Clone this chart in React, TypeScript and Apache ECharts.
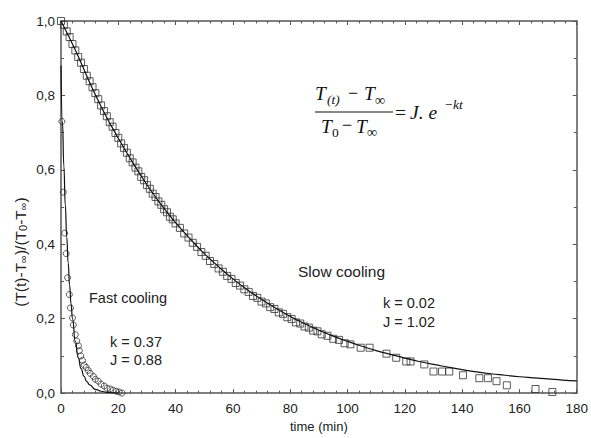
import React, { useEffect, useRef } from "react";
import * as echarts from "echarts";

// Slow cooling measurements (time in min, normalised temperature)
const slowTime = [
  0, 1, 2, 3, 4, 5, 6, 7, 8, 9, 10, 11, 12, 13, 14, 15, 16, 17, 18, 19, 20,
  21, 22, 23, 24, 25, 26, 27, 28, 29, 30, 31, 32, 33, 34, 35, 36, 37, 38, 39, 40,
  41.5, 43, 44.5, 46, 47.5, 49, 50.5, 52, 53.5, 55, 56.5, 58, 59.5, 61, 62.5, 64,
  65.5, 67, 68.5, 70, 71.5, 73, 74.5, 76, 77.5, 79, 80.5, 82, 83.5, 85, 86.5, 88,
  89.5, 91, 93, 95, 97, 99, 101, 104.6, 107.7, 113.6, 117, 120.5, 122, 126.8, 130,
  133, 135.5, 140.3, 146, 149, 152, 155.6, 165.6, 171.5,
];
const slowValue = [
  1.0, 0.99, 0.972, 0.957, 0.938, 0.921, 0.903, 0.888, 0.871, 0.853, 0.838, 0.822,
  0.806, 0.79, 0.773, 0.758, 0.744, 0.728, 0.716, 0.699, 0.686, 0.671, 0.659, 0.646,
  0.631, 0.62, 0.606, 0.596, 0.581, 0.572, 0.559, 0.549, 0.536, 0.527, 0.515, 0.506,
  0.494, 0.486, 0.474, 0.467, 0.456, 0.444, 0.429, 0.418, 0.404, 0.393, 0.379, 0.369,
  0.355, 0.347, 0.335, 0.326, 0.315, 0.307, 0.296, 0.289, 0.279, 0.272, 0.261, 0.256,
  0.246, 0.241, 0.231, 0.226, 0.217, 0.213, 0.204, 0.199, 0.19, 0.187, 0.179, 0.176,
  0.168, 0.166, 0.158, 0.154, 0.146, 0.143, 0.134, 0.131, 0.122, 0.122, 0.106, 0.095,
  0.085, 0.085, 0.077, 0.058, 0.058, 0.058, 0.048, 0.04, 0.04, 0.032, 0.021, 0.011,
  0.003,
];

// Fast cooling measurements
const fastTime = [
  0.3, 0.8, 1.3, 1.8, 2.3, 2.9, 3.3, 4.0, 4.3, 5.0, 5.5, 6.1, 6.4, 6.9, 7.5, 8.1,
  8.8, 9.5, 10.2, 11.3, 12.0, 13.0, 14.0, 15.1, 16.1, 17.2, 18.2, 19.3, 20.3, 21.3,
];
const fastValue = [
  0.73, 0.54, 0.43, 0.375, 0.31, 0.265, 0.229, 0.202, 0.183, 0.157, 0.14, 0.127,
  0.114, 0.1, 0.088, 0.075, 0.069, 0.061, 0.053, 0.045, 0.037, 0.032, 0.024, 0.019,
  0.013, 0.011, 0.008, 0.005, 0.003, 0.0,
];

// Fitted curves (as drawn)
const slowFitTime = [
  0, 5, 10, 15, 20, 25, 30, 35, 40, 45, 50, 55, 60, 65, 70, 75, 80, 85, 90, 95, 100,
  105, 110, 115, 120, 125, 130, 135, 140, 145, 150, 155, 160, 165, 170, 175, 180,
];
const slowFitValue = [
  1.0, 0.922, 0.835, 0.755, 0.685, 0.62, 0.56, 0.506, 0.458, 0.415, 0.375, 0.34,
  0.307, 0.278, 0.252, 0.228, 0.206, 0.187, 0.169, 0.153, 0.139, 0.126, 0.114, 0.104,
  0.094, 0.085, 0.077, 0.07, 0.063, 0.057, 0.052, 0.048, 0.044, 0.041, 0.038, 0.035,
  0.033,
];
const fastFitTime = [
  0, 0.5, 1, 1.5, 2, 2.5, 3, 3.5, 4, 5, 6, 7, 8, 9, 10, 12, 14, 16, 18, 20,
];
const fastFitValue = [
  0.88, 0.73, 0.61, 0.505, 0.42, 0.35, 0.29, 0.24, 0.2, 0.139, 0.095, 0.066, 0.046,
  0.031, 0.022, 0.01, 0.005, 0.002, 0.001, 0.0,
];

const xMin = 0;
const xMax = 180;
const xStep = 20;
const yMin = 0;
const yMax = 1;
const yStep = 0.2;

const pair = (xs: number[], ys: number[]) => xs.map((x, i) => [x, ys[i]]);

const AXIS_COLOR = "#555";
const TEXT_COLOR = "#222";
const SANS = "'Liberation Sans', Arial, sans-serif";
const SERIF = "'Liberation Serif', 'DejaVu Serif', serif";

export default function App() {
  const ref = useRef<HTMLDivElement>(null);

  useEffect(() => {
    if (!ref.current) return;
    const chart = echarts.init(ref.current, undefined, { renderer: "svg" });

    const baseX = {
      type: "value" as const,
      min: xMin,
      max: xMax,
      interval: xStep,
      axisLine: { show: true, onZero: false, lineStyle: { color: AXIS_COLOR, width: 1.5 } },
      axisTick: { show: true, inside: true, length: 4, lineStyle: { color: AXIS_COLOR } },
      minorTick: { show: true, splitNumber: 5, length: 2.5, lineStyle: { color: AXIS_COLOR } },
      splitLine: { show: false },
    };
    const baseY = {
      type: "value" as const,
      min: yMin,
      max: yMax,
      interval: yStep,
      axisLine: { show: true, onZero: false, lineStyle: { color: AXIS_COLOR, width: 1.5 } },
      axisTick: { show: true, inside: true, length: 4, lineStyle: { color: AXIS_COLOR } },
      minorTick: { show: true, splitNumber: 2, length: 3, lineStyle: { color: AXIS_COLOR } },
      splitLine: { show: false },
    };

    const eqStyle = (text: string, x: number, y: number, size: number, italic = true) => ({
      type: "text",
      x,
      y,
      silent: true,
      style: {
        text,
        fill: "#111",
        fontFamily: SERIF,
        fontSize: size,
        fontStyle: italic ? "italic" : "normal",
        textAlign: "left",
        textVerticalAlign: "middle",
      },
    });
    const label = (text: string, x: number, y: number, size = 14.5) => ({
      type: "text",
      x,
      y,
      silent: true,
      style: {
        text,
        fill: TEXT_COLOR,
        fontFamily: SANS,
        fontSize: size,
        textAlign: "left",
        textVerticalAlign: "middle",
      },
    });

    chart.setOption({
      animation: false,
      backgroundColor: "#fff",
      grid: { left: 61, right: 11, top: 21, bottom: 40, containLabel: false },
      xAxis: [
        {
          ...baseX,
          position: "bottom",
          axisLabel: { fontSize: 13.5, color: TEXT_COLOR, fontFamily: SANS, margin: 8 },
          name: "time (min)",
          nameLocation: "middle",
          nameGap: 23,
          nameTextStyle: { fontSize: 13, color: TEXT_COLOR, fontFamily: SANS },
        },
        { ...baseX, position: "top", axisLabel: { show: false } },
      ],
      yAxis: [
        {
          ...baseY,
          position: "left",
          axisLabel: {
            fontSize: 13.5,
            color: TEXT_COLOR,
            fontFamily: SANS,
            margin: 6,
            formatter: (v: number) => v.toFixed(1).replace(".", ","),
          },
        },
        { ...baseY, position: "right", axisLabel: { show: false } },
      ],
      series: [
        {
          type: "scatter",
          data: pair(slowTime, slowValue),
          symbol: "rect",
          symbolSize: 7,
          itemStyle: { color: "transparent", borderColor: "#333", borderWidth: 1 },
          xAxisIndex: 0,
          yAxisIndex: 0,
        },
        {
          type: "scatter",
          data: pair(fastTime, fastValue),
          symbol: "circle",
          symbolSize: 6,
          itemStyle: { color: "transparent", borderColor: "#333", borderWidth: 1 },
          xAxisIndex: 0,
          yAxisIndex: 0,
        },
        {
          type: "line",
          data: pair(slowFitTime, slowFitValue),
          showSymbol: false,
          smooth: true,
          lineStyle: { color: "#111", width: 1.2 },
          xAxisIndex: 0,
          yAxisIndex: 0,
        },
        {
          type: "line",
          data: pair(fastFitTime, fastFitValue),
          showSymbol: false,
          smooth: true,
          smoothMonotone: "x",
          lineStyle: { color: "#111", width: 1.2 },
          xAxisIndex: 0,
          yAxisIndex: 0,
        },
      ],
      graphic: [
        {
          type: "text",
          x: 20,
          y: 252,
          rotation: Math.PI / 2,
          silent: true,
          style: {
            text: "(T(t)-T{s|∞})/(T{s|0}-T{s|∞})",
            fill: TEXT_COLOR,
            fontFamily: SANS,
            fontSize: 15.5,
            textAlign: "center",
            textVerticalAlign: "middle",
            rich: {
              s: { fontSize: 11, fontFamily: SANS, fill: TEXT_COLOR, verticalAlign: "bottom" },
            },
          },
        },
        label("Fast cooling", 89, 298),
        label("k = 0.37", 110, 342),
        label("J = 0.88", 110, 360),
        label("Slow cooling", 298, 271, 15.5),
        label("k = 0.02", 383, 303),
        label("J = 1.02", 383, 322),
        // equation
        eqStyle("T", 315, 93, 19.5),
        eqStyle("(t)", 327, 99, 13.5),
        eqStyle("−", 348, 93, 18, false),
        eqStyle("T", 364, 93, 19.5),
        eqStyle("∞", 375, 100, 14.5, false),
        {
          type: "line",
          silent: true,
          shape: { x1: 315, y1: 112, x2: 393, y2: 112 },
          style: { stroke: "#111", lineWidth: 1.2 },
        },
        eqStyle("T", 321, 126, 19.5),
        eqStyle("0", 332, 132, 13.5, false),
        eqStyle("−", 342, 125, 18, false),
        eqStyle("T", 356, 126, 19.5),
        eqStyle("∞", 367, 132, 14.5, false),
        eqStyle("=", 395, 112, 19.5, false),
        eqStyle("J. e", 410, 112, 19.5),
        eqStyle("−kt", 444, 104, 13.5),
      ],
    });

    return () => chart.dispose();
  }, []);

  return (
    <div
      ref={ref}
      style={{ position: "fixed", left: 0, top: 0, width: 591, height: 438, background: "#fff" }}
    />
  );
}
